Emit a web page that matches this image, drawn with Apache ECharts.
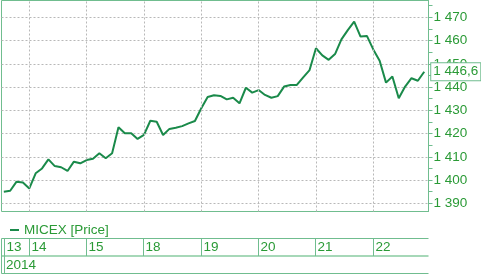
<!DOCTYPE html>
<html>
<head>
<meta charset="utf-8">
<script src="https://cdn.jsdelivr.net/npm/echarts@6/dist/echarts.min.js"></script>
<style>
html,body{margin:0;padding:0;background:#fff;}
#c{width:481px;height:274px;}
</style>
</head>
<body>
<div id="c"></div>
<script>
// ---- data ----
const days = ['13', '14', '15', '18', '19', '20', '21', '22'];
const pointsPerDay = [4, 9, 9, 9, 9, 9, 9, 9];
const years = ['2014'];
const seriesName = 'MICEX [Price]';
const prices = [
  1395.0, 1395.4, 1399.3, 1398.9,
  1396.4, 1402.9, 1405.0, 1408.9, 1406.0, 1405.5, 1403.9, 1407.9, 1407.2,
  1408.6, 1409.2, 1411.5, 1409.4, 1411.5, 1422.7, 1420.1, 1420.1, 1417.7,
  1419.4, 1425.5, 1425.1, 1419.4, 1422.0, 1422.5, 1423.2, 1424.4, 1425.4,
  1430.9, 1435.7, 1436.5, 1436.2, 1434.7, 1435.4, 1433.0, 1439.7, 1437.6,
  1438.7, 1436.6, 1435.4, 1436.1, 1440.2, 1440.9, 1440.9, 1444.2, 1447.3,
  1456.7, 1453.6, 1451.7, 1454.2, 1460.5, 1464.5, 1468.1, 1461.7, 1462.0,
  1456.2, 1451.3, 1441.9, 1444.5, 1435.2, 1440.2, 1443.8, 1442.7, 1446.6
];
const yLabelValues = [1390, 1400, 1410, 1420, 1430, 1440, 1450, 1460, 1470];
const yTickValues = [1390, 1395, 1400, 1405, 1410, 1415, 1420, 1425, 1430, 1435,
  1440, 1445, 1450, 1455, 1460, 1465, 1470, 1475];

// ---- helpers ----
const FULL_DAY = 9;
const dayStarts = [];
(function () {
  let acc = 0;
  pointsPerDay.forEach((n, d) => {
    dayStarts.push(d === 0 ? n - FULL_DAY : acc);
    acc += n;
  });
})();
function fmt(v, dec) {
  const parts = v.toFixed(dec).split('.');
  const intPart = parts[0].replace(/\B(?=(\d{3})+(?!\d))/g, ' ');
  return parts[1] ? intPart + ',' + parts[1] : intPart;
}

const FONT = 'Liberation Sans, Arial, sans-serif';
const FS = 13.5;
const TEXT = '#2a9a36';
const LINE = '#1a8a4a';
const FRAME = '#70bd8f';
const FRAME_LIGHT = '#a6d8b8';
const GRIDC = '#b8b8b8';
const X_MIN = -0.364, X_MAX = 66.67;
const Y_MIN = 1386.47, Y_MAX = 1477.23;

const chart = echarts.init(document.getElementById('c'), null, {renderer: 'canvas'});
const option = {
  animation: false,
  textStyle: {fontFamily: FONT},
  legend: {
    data: [seriesName],
    left: 10, top: 223, padding: 0,
    icon: 'rect', itemWidth: 9, itemHeight: 2,
    textStyle: {color: TEXT, fontSize: FS, fontFamily: FONT}
  },
  grid: [
    {left: 1.5, top: 0.5, width: 427, height: 211, show: true,
     borderColor: FRAME, borderWidth: 1, backgroundColor: 'transparent'},
    {left: 1.5, top: 238.5, width: 427, height: 35}
  ],
  xAxis: [
    {type: 'value', gridIndex: 0, min: X_MIN, max: X_MAX,
     axisLine: {show: false, onZero: false}, axisTick: {show: false},
     axisLabel: {show: false}, splitLine: {show: false}},
    {type: 'value', gridIndex: 1, min: X_MIN, max: X_MAX, show: false,
     axisLine: {onZero: false}, splitLine: {show: false}}
  ],
  yAxis: [
    {type: 'value', gridIndex: 0, position: 'right', min: Y_MIN, max: Y_MAX,
     splitNumber: 9,
     axisLine: {show: true, onZero: false, lineStyle: {color: FRAME, width: 1}},
     axisTick: {show: false, customValues: yLabelValues},
     axisLabel: {show: true, customValues: yLabelValues, margin: 5,
       color: TEXT, fontSize: FS, fontFamily: FONT,
       formatter: v => fmt(v, 0)},
     splitLine: {show: true, lineStyle: {color: GRIDC, type: [2, 2], width: 1}}},
    {type: 'value', gridIndex: 0, position: 'right', min: Y_MIN, max: Y_MAX,
     axisLine: {show: false, onZero: false},
     axisTick: {show: true, customValues: yTickValues, length: 4, inside: false,
       lineStyle: {color: FRAME, width: 1}},
     axisLabel: {show: false},
     splitLine: {show: false}},
    {type: 'value', gridIndex: 1, min: 0, max: 2, show: false,
     axisLine: {onZero: false}, splitLine: {show: false}}
  ],
  series: [
    {
      type: 'line', name: '_grid', xAxisIndex: 0, yAxisIndex: 0, z: 1,
      data: prices.map((v, i) => [i, v]),
      symbol: 'none', silent: true,
      lineStyle: {opacity: 0}, itemStyle: {opacity: 0},
      markLine: {
        silent: true, symbol: ['none', 'none'], animation: false,
        label: {show: false},
        lineStyle: {color: GRIDC, type: [2, 2], width: 1},
        data: dayStarts.filter(s => s > X_MIN).map(s => ({xAxis: s}))
      }
    },
    {
      type: 'line', name: seriesName, xAxisIndex: 0, yAxisIndex: 0, z: 3,
      data: prices.map((v, i) => [i, v]),
      symbol: 'none', showSymbol: false,
      lineStyle: {color: LINE, width: 2},
      itemStyle: {color: LINE},
      endLabel: {
        show: true, distance: 7,
        formatter: p => fmt(p.value[1], 1),
        color: TEXT, fontSize: FS, fontFamily: FONT,
        backgroundColor: '#fff', borderColor: FRAME, borderWidth: 1,
        padding: [2, 2, 1, 2]
      }
    },
    {
      type: 'custom', name: '_frame', xAxisIndex: 1, yAxisIndex: 2,
      silent: true, clip: false, z: 2,
      data: [[X_MIN, 0]],
      renderItem: function (params, api) {
        const tl = api.coord([X_MIN, 2]);
        const tr = api.coord([X_MAX, 2]);
        const ml = api.coord([X_MIN, 1]);
        const bl = api.coord([X_MIN, 0]);
        const r = tr[0];
        const lx = Math.round(tl[0] - 0.5) + 0.5;
        const ty = Math.round(tl[1] - 0.5) + 0.5;
        const by = Math.round(bl[1] - 0.5) + 0.5;
        const my = Math.round(ml[1]);
        return {
          type: 'group',
          children: [
            {type: 'line', shape: {x1: lx, y1: ty, x2: r, y2: ty}, style: {stroke: FRAME, lineWidth: 1}},
            {type: 'line', shape: {x1: lx, y1: my, x2: r, y2: my}, style: {stroke: FRAME_LIGHT, lineWidth: 2}},
            {type: 'line', shape: {x1: lx, y1: by, x2: r, y2: by}, style: {stroke: FRAME, lineWidth: 1}},
            {type: 'line', shape: {x1: lx, y1: ty, x2: lx, y2: by}, style: {stroke: FRAME, lineWidth: 1}},
            {type: 'line', shape: {x1: lx + 3, y1: ty, x2: lx + 3, y2: by}, style: {stroke: FRAME, lineWidth: 1}},
            {type: 'text', x: lx + 4.5, y: (my + by) / 2 + 0.5,
             style: {text: years[0], fill: TEXT, fontSize: FS, fontFamily: FONT,
               align: 'left', verticalAlign: 'middle'}}
          ]
        };
      }
    },
    {
      type: 'custom', name: '_days', xAxisIndex: 1, yAxisIndex: 2,
      silent: true, clip: false, z: 2,
      data: dayStarts.map((s, d) => [s, d]),
      renderItem: function (params, api) {
        const s = api.value(0);
        const d = api.value(1);
        const left = api.coord([X_MIN, 2])[0];
        const top = api.coord([s, 2]);
        const mid = api.coord([s, 1]);
        const ty = Math.round(top[1] - 0.5) + 0.5;
        const my = Math.round(mid[1]);
        const children = [];
        let x = Math.round(top[0] - 0.5) + 0.5;
        if (s <= X_MIN) {
          x = Math.round(left - 0.5) + 3.5;
        } else {
          children.push({type: 'line', shape: {x1: x, y1: ty, x2: x, y2: my},
            style: {stroke: FRAME, lineWidth: 1}});
        }
        children.push({type: 'text', x: x + 2, y: (ty + my) / 2 + 0.5,
          style: {text: days[d], fill: TEXT, fontSize: FS, fontFamily: FONT,
            align: 'left', verticalAlign: 'middle'}});
        return {type: 'group', children: children};
      }
    }
  ]
};
chart.setOption(option);
</script>
</body>
</html>
